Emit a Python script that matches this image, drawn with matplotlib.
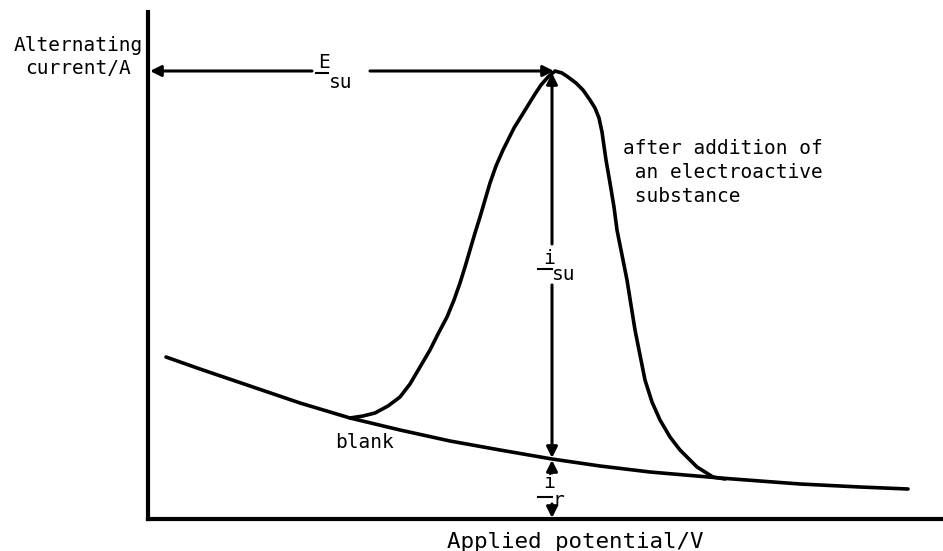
"""Alternating current polarogram: blank and peak after addition of an electroactive substance."""

import matplotlib
matplotlib.use("Agg")
import matplotlib.pyplot as plt

# values (potential and current in arbitrary units)
blank_x = [18, 52, 102, 152, 202, 252, 302, 352, 404, 452, 502, 572, 652, 712, 760]
blank_y = [162, 150, 133, 116, 101, 89, 78, 69, 60, 53, 47, 41, 35, 32, 30]

peak_x = [202, 215, 227, 240, 252, 262, 272, 282, 290, 299, 306, 312, 317, 322, 327,
          332, 337, 342, 348, 355, 366, 379, 387, 393, 400, 407,
          414, 420, 428, 435, 442, 447, 451, 454, 456, 458, 462, 466, 469, 474, 479, 483,
          487, 492, 497, 504, 512, 522, 532, 549, 565, 577]
peak_y = [101, 103, 106, 113, 122, 135, 152, 169, 185, 202, 219, 236, 252, 269, 286,
          302, 319, 336, 353, 369, 391, 412, 425, 434, 442, 448,
          446, 442, 436, 429, 419, 411, 401, 387, 373, 359, 336, 312, 289, 264, 239, 214,
          189, 164, 139, 117, 99, 82, 69, 52, 42, 40]

E_su = 404      # peak potential
i_su = 448      # peak current
i_r = 60        # residual (blank) current at E_su

FONT = "DejaVu Sans Mono"
LW = 2.6

fig = plt.figure(figsize=(9.43, 5.51), dpi=100)
ax = fig.add_axes([148 / 943, 32 / 551, 795 / 943, 507 / 551])
ax.set_xlim(0, 795)
ax.set_ylim(0, 507)
for side in ("top", "right"):
    ax.spines[side].set_visible(False)
for side in ("left", "bottom"):
    ax.spines[side].set_linewidth(3)
ax.set_xticks([])
ax.set_yticks([])

ax.plot(blank_x, blank_y, color="black", lw=LW, solid_capstyle="round", solid_joinstyle="round")
ax.plot(peak_x, peak_y, color="black", lw=LW, solid_capstyle="round", solid_joinstyle="round")


def arrow(x0, y0, x1, y1):
    ax.annotate("", xy=(x1, y1), xytext=(x0, y0),
                arrowprops=dict(arrowstyle="-|>", color="black", lw=2.2,
                                mutation_scale=16, shrinkA=0, shrinkB=0))


# E_su: horizontal double arrow from the current axis to the peak
arrow(164, i_su, 2, i_su)
arrow(222, i_su, E_su + 2, i_su)
ax.text(170, i_su - 1, "E", fontsize=14, family=FONT, va="bottom", ha="left")
ax.plot([168, 180], [i_su - 2, i_su - 2], color="black", lw=1.5)
ax.text(181, i_su - 2, "su", fontsize=14, family=FONT, va="top", ha="left")

# i_su: vertical double arrow between blank and peak
arrow(E_su, 275, E_su, i_su - 2)
arrow(E_su, 234, E_su, i_r + 1)
ax.text(E_su - 9, 251, "i", fontsize=14, family=FONT, va="bottom", ha="left")
ax.plot([E_su - 14, E_su], [250, 250], color="black", lw=1.5)
ax.text(E_su, 254, "su", fontsize=14, family=FONT, va="top", ha="left")

# i_r: residual current down to the potential axis
arrow(E_su, 46, E_su, i_r - 1)
arrow(E_su, 15, E_su, 1)
ax.text(E_su - 9, 27, "i", fontsize=14, family=FONT, va="bottom", ha="left")
ax.plot([E_su - 14, E_su], [22, 22], color="black", lw=1.5)
ax.text(E_su, 28, "r", fontsize=14, family=FONT, va="top", ha="left")

ax.text(187, 77, "blank", fontsize=14, family=FONT, va="center", ha="left")
ax.text(475, 380, "after addition of\n an electroactive\n substance", fontsize=14,
        family=FONT, va="top", ha="left", linespacing=1.35)

fig.text(78 / 943, 1 - 57 / 551, "Alternating\ncurrent/A", fontsize=14, family=FONT,
         ha="center", va="center", linespacing=1.3)
fig.text(575 / 943, 1 - 542 / 551, "Applied potential/V", fontsize=16.2, family=FONT,
         ha="center", va="center")

fig.savefig("out.png", dpi=100)
plt.close(fig)
